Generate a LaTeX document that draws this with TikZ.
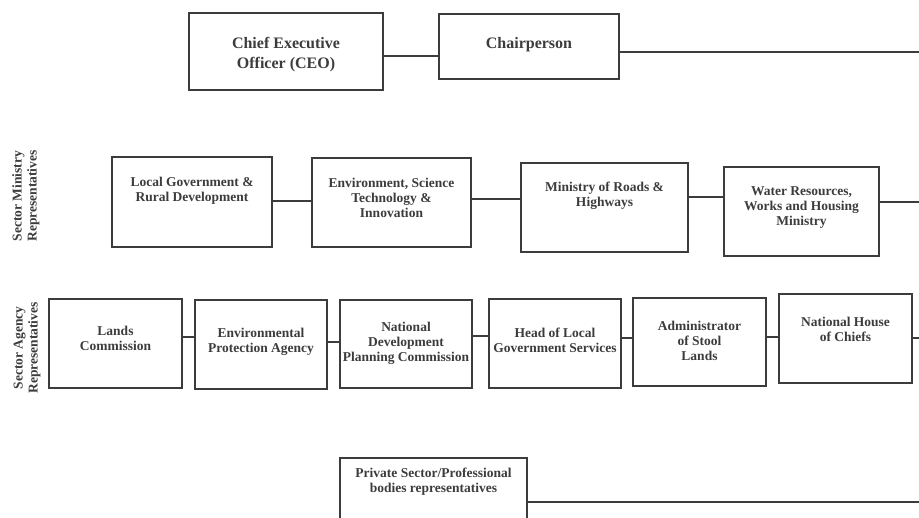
\documentclass[tikz,border=0pt]{standalone}
\usepackage{fontspec}
\setmainfont{Liberation Serif}
\usepackage{xcolor}
\usetikzlibrary{positioning}

\definecolor{inkgray}{HTML}{3C3C3C}

\begin{document}
\begin{tikzpicture}[
  x=1pt, y=-1pt,
  font=\bfseries\fontsize{13.5}{15}\selectfont,
  box/.style={draw=inkgray, line width=1.5pt, inner sep=0pt},
  txt/.style={anchor=north, align=center, inner sep=0pt, text=inkgray},
  big/.style={font=\bfseries\fontsize{16}{20}\selectfont},
  side/.style={rotate=90, align=center, text=inkgray},
  link/.style={draw=inkgray, line width=1.5pt}
]
\clip (0,0) rectangle (919,518);
\coordinate (rim) at (930,0);

% top level
\node[box, minimum width=194pt, minimum height=77pt,
  label={[txt, big, yshift=-24.5pt]north:Chief Executive\\Officer (CEO)}] (ceo) at (286,51.5) {};
\node[box, minimum width=180pt, minimum height=65pt,
  label={[txt, big, yshift=-23.5pt]north:Chairperson}] (chair) at (529,46.5) {};

% sector ministries
\node[side] (minlbl) at (26,196) {Sector Ministry\\Representatives};
\node[box, minimum width=160pt, minimum height=90pt,
  label={[txt, yshift=-20.5pt]north:Local Government \&\\Rural Development}] (lgrd) at (192,202) {};
\node[box, minimum width=159pt, minimum height=89pt,
  label={[txt, yshift=-20.5pt]north:Environment, Science\\Technology \&\\Innovation}] (esti) at (391.5,202.5) {};
\node[box, minimum width=167pt, minimum height=89pt,
  label={[txt, yshift=-20pt]north:Ministry of Roads \&\\Highways}] (mrh) at (604.5,207.5) {};
\node[box, minimum width=155pt, minimum height=89pt,
  label={[txt, yshift=-20pt]north:Water Resources,\\Works and Housing\\Ministry}] (wrwh) at (801.5,211.5) {};

% sector agencies
\node[side] (agylbl) at (27,348) {Sector Agency\\Representatives};
\node[box, minimum width=133pt, minimum height=89pt,
  label={[txt, yshift=-28pt]north:Lands\\Commission}] (lands) at (115.5,343.5) {};
\node[box, minimum width=132pt, minimum height=89pt,
  label={[txt, yshift=-29pt]north:Environmental\\Protection Agency}] (epa) at (261,344.5) {};
\node[box, minimum width=132pt, minimum height=88pt,
  label={[txt, yshift=-23pt]north:National\\Development\\Planning Commission}] (ndpc) at (406,344) {};
\node[box, minimum width=132pt, minimum height=89pt,
  label={[txt, yshift=-30pt]north:Head of Local\\Government Services}] (head) at (555,343.5) {};
\node[box, minimum width=133pt, minimum height=88pt,
  label={[txt, yshift=-24pt]north:Administrator\\of Stool\\Lands}] (stool) at (699.5,342) {};
\node[box, minimum width=133pt, minimum height=89pt,
  label={[txt, yshift=-24pt]north:National House\\of Chiefs}] (chiefs) at (845.5,338.5) {};

% private sector
\node[box, minimum width=187pt, minimum height=90pt,
  label={[txt, yshift=-11pt]north:Private Sector/Professional\\bodies representatives}] (priv) at (433.5,503) {};

% connectors
\draw[link] (ceo.east |- 0,56) -- (chair.west |- 0,56);
\draw[link] (chair.east |- 0,52) -- (rim |- 0,52);
\draw[link] (lgrd.east |- 0,201) -- (esti.west |- 0,201);
\draw[link] (esti.east |- 0,199) -- (mrh.west |- 0,199);
\draw[link] (mrh.east |- 0,197) -- (wrwh.west |- 0,197);
\draw[link] (wrwh.east |- 0,202) -- (rim |- 0,202);
\draw[link] (lands.east |- 0,337) -- (epa.west |- 0,337);
\draw[link] (epa.east |- 0,342) -- (ndpc.west |- 0,342);
\draw[link] (ndpc.east |- 0,336) -- (head.west |- 0,336);
\draw[link] (head.east |- 0,338) -- (stool.west |- 0,338);
\draw[link] (stool.east |- 0,337) -- (chiefs.west |- 0,337);
\draw[link] (chiefs.east |- 0,338) -- (rim |- 0,338);
\draw[link] (priv.east |- 0,502) -- (rim |- 0,502);
\end{tikzpicture}
\end{document}
